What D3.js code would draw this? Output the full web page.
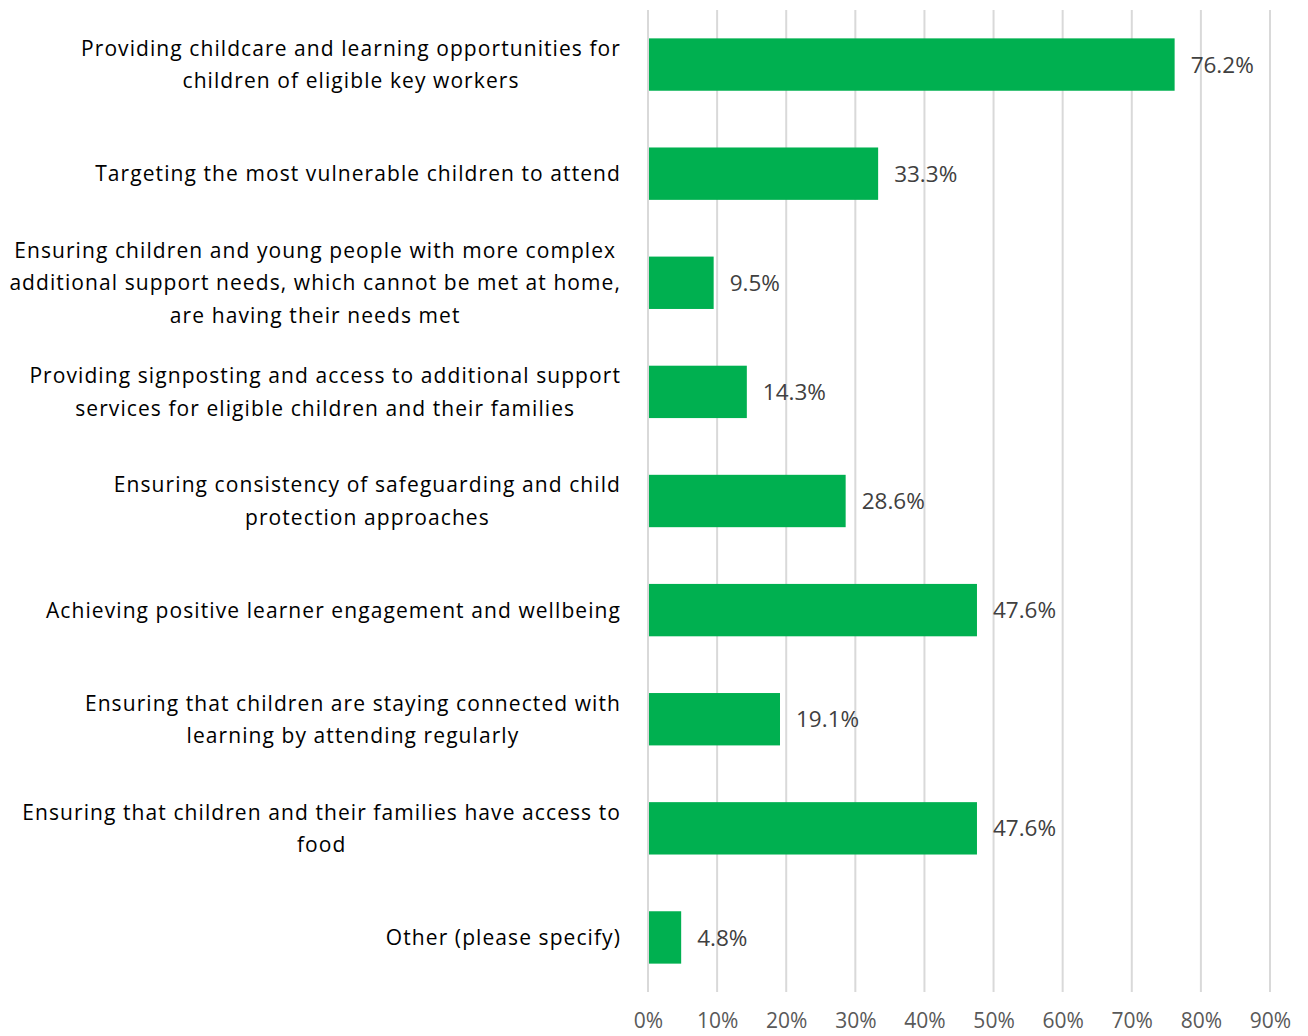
<!DOCTYPE html>
<html>
<head>
<meta charset="utf-8">
<script src="https://cdn.jsdelivr.net/npm/d3@7"></script>
<style>
  body { margin: 0; background: #fff; }
  svg { display: block; font-family: "Open Sans", Lato, sans-serif; }
</style>
</head>
<body>
<svg id="chart"></svg>
<script>
// Categories (each line of a label as it wraps in the picture)
const categories = [
  ["Providing childcare and learning opportunities for", "children of eligible key workers"],
  ["Targeting the most vulnerable children to attend"],
  ["Ensuring children and young people with more complex", "additional support needs, which cannot be met at home,", "are having their needs met"],
  ["Providing signposting and access to additional support", "services for eligible children and their families"],
  ["Ensuring consistency of safeguarding and child", "protection approaches"],
  ["Achieving positive learner engagement and wellbeing"],
  ["Ensuring that children are staying connected with", "learning by attending regularly"],
  ["Ensuring that children and their families have access to", "food"],
  ["Other (please specify)"]
];
const values = [76.2, 33.3, 9.5, 14.3, 28.6, 47.6, 19.1, 47.6, 4.8];
const xTicks = [0, 10, 20, 30, 40, 50, 60, 70, 80, 90];

const W = 1308, H = 1036;
const margin = { top: 10, right: 38, bottom: 44, left: 648 };
const width = W - margin.left - margin.right,
      height = H - margin.top - margin.bottom;

const svg = d3.select("#chart").attr("width", W).attr("height", H);
const g = svg.append("g").attr("transform", `translate(${margin.left},${margin.top})`);

const x = d3.scaleLinear().domain([0, 90]).range([0, width]);
const y = d3.scaleBand().domain(d3.range(categories.length)).range([0, height]).paddingInner(0.52).paddingOuter(0.26);

// Vertical gridlines
g.selectAll(".grid")
  .data(xTicks)
  .enter().append("line")
  .attr("x1", d => x(d)).attr("x2", d => x(d))
  .attr("y1", 0).attr("y2", height)
  .attr("stroke", "#d9d9d9").attr("stroke-width", 2);

// Bars
g.selectAll(".bar")
  .data(values)
  .enter().append("rect")
  .attr("x", x(0) + 1)
  .attr("y", (d, i) => y(i))
  .attr("width", d => x(d) - x(0) - 1)
  .attr("height", y.bandwidth())
  .attr("fill", "#00b050");

// Value labels
g.selectAll(".val")
  .data(values)
  .enter().append("text")
  .attr("x", d => x(d) + 16)
  .attr("y", (d, i) => y(i) + y.bandwidth() / 2)
  .attr("dy", "0.36em")
  .attr("fill", "#404040")
  .style("font-size", "22.5px")
  .text(d => d.toFixed(1) + "%");

// X axis tick labels
const xAxis = g.append("g")
  .attr("transform", `translate(0,${height})`)
  .call(d3.axisBottom(x).tickValues(xTicks).tickFormat(d => d + "%").tickSize(0).tickPadding(21));
xAxis.select(".domain").remove();
xAxis.selectAll("text")
  .attr("fill", "#595959")
  .style("font-size", "21px")
  .style("font-family", "'Open Sans', sans-serif");

// Category labels: centered block, right edge at 621
const labelRight = 621 - margin.left;
const lineH = 32.5;
const labels = g.selectAll(".cat")
  .data(categories)
  .enter().append("text")
  .attr("fill", "#000")
  .style("font-size", "21px")
  .style("letter-spacing", "1.08px");

labels.each(function(lines, i) {
  const t = d3.select(this);
  const cy = y(i) + y.bandwidth() / 2;
  lines.forEach((ln, k) => {
    t.append("tspan")
      .attr("y", cy + (k - (lines.length - 1) / 2) * lineH)
      .attr("dy", "0.36em")
      .text(ln);
  });
  let maxW = 0;
  t.selectAll("tspan").each(function() { maxW = Math.max(maxW, this.getComputedTextLength()); });
  t.attr("text-anchor", "middle").selectAll("tspan").attr("x", labelRight - maxW / 2);
});
</script>
</body>
</html>
